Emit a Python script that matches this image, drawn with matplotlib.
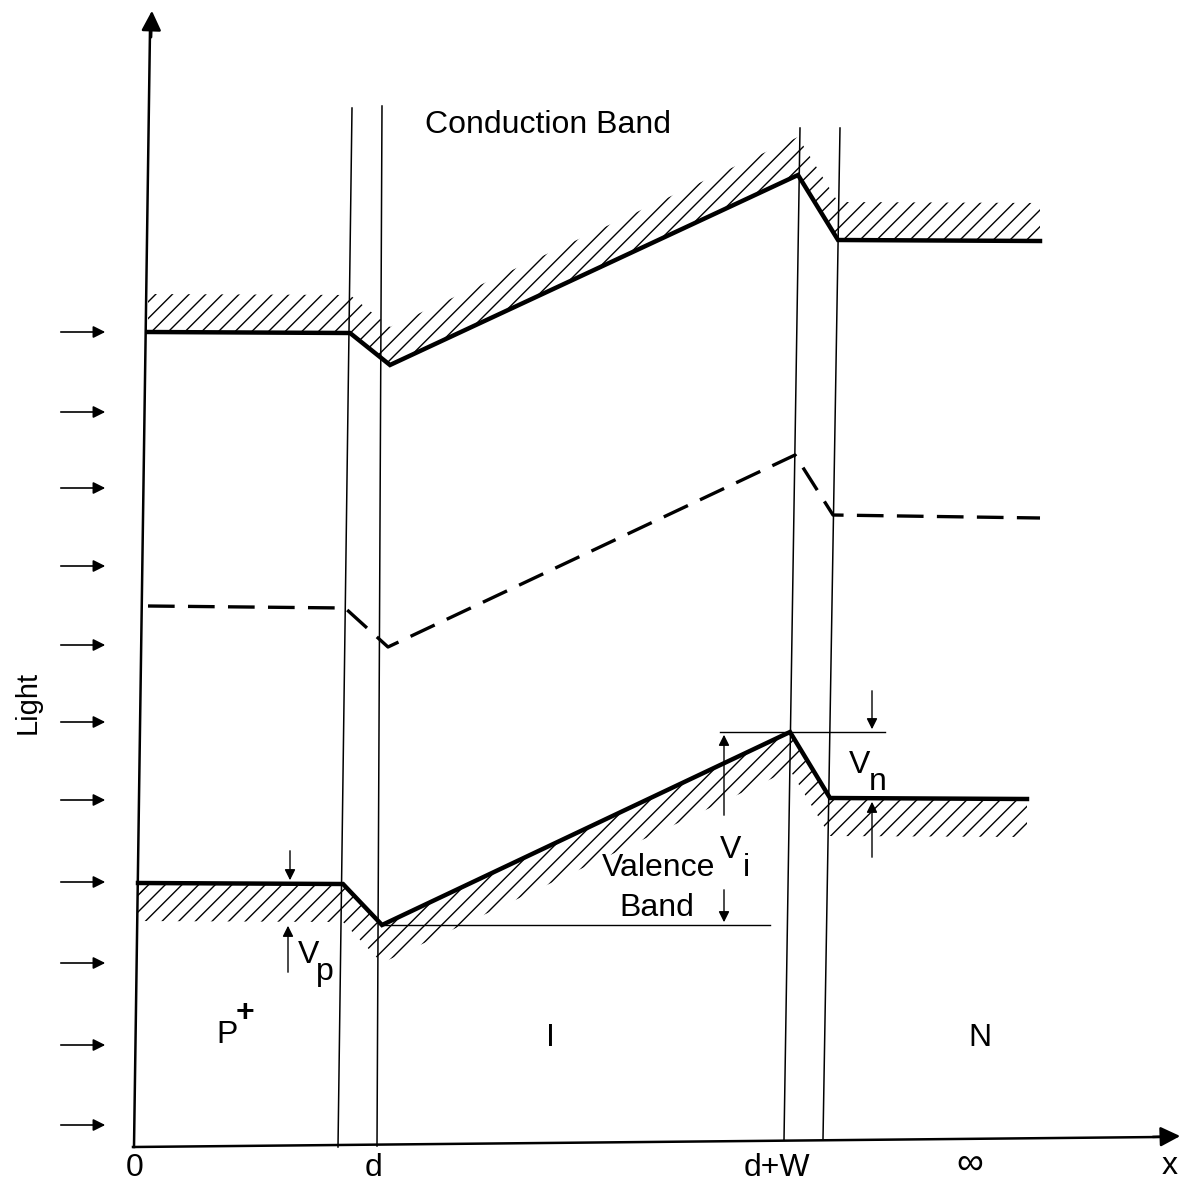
import matplotlib.pyplot as plt
import numpy as np

plt.rcParams['font.family'] = ['Liberation Sans', 'DejaVu Sans']
plt.rcParams['hatch.linewidth'] = 1.0

# === BAND DIAGRAM DATA (pixel-like units, y grows downward) ===
cb_x = [148, 350, 390, 798, 838, 1040]   # conduction band
cb_y = [332, 333, 365, 175, 240, 241]
ef_x = [148, 345, 388, 795, 833, 1040]   # dashed level
ef_y = [606, 608, 647, 455, 515, 518]
vb_x = [138, 343, 382, 790, 830, 1027]   # valence band
vb_y = [883, 884, 925, 732, 798, 799]

# region boundaries (top x, top y, bottom x, bottom y)
bound_top_x = [352, 382, 800, 840]
bound_top_y = [108, 106, 128, 128]
bound_bot_x = [338, 377, 784, 823]
bound_bot_y = [1147, 1146, 1140, 1139]

light_y = [332, 412, 488, 566, 645, 722, 800, 882, 963, 1045, 1125]

tick_x = [135, 374, 777]
tick_labels = ['0', 'd', 'd+W']

region_x = [550, 980]
region_labels = ['I', 'N']

hatch_depth = 38

fig = plt.figure(figsize=(11.93, 11.83), dpi=100)
ax = fig.add_axes([0, 0, 1, 1])
ax.set_xlim(0, 1193)
ax.set_ylim(1183, 0)
ax.axis('off')

# axes with arrows
ax.plot([150, 134], [30, 1147], color='k', lw=1.8)
ax.annotate('', xy=(152, 8), xytext=(151, 40),
            arrowprops=dict(arrowstyle='-|>', lw=1.8, color='k', mutation_scale=30))
ax.plot([133, 1160], [1147, 1137], color='k', lw=1.8)
ax.annotate('', xy=(1183, 1136), xytext=(1150, 1137),
            arrowprops=dict(arrowstyle='-|>', lw=1.8, color='k', mutation_scale=30))

# region boundaries
for tx, ty, bx, by in zip(bound_top_x, bound_top_y, bound_bot_x, bound_bot_y):
    ax.plot([tx, bx], [ty, by], color='k', lw=1.1)

# hatched bands
cbx = np.array(cb_x, dtype=float)
cby = np.array(cb_y, dtype=float)
vbx = np.array(vb_x, dtype=float)
vby = np.array(vb_y, dtype=float)
ax.fill_between(cbx, cby - hatch_depth, cby, facecolor='none', edgecolor='k',
                hatch='//', linewidth=0)
ax.fill_between(vbx, vby, vby + hatch_depth, facecolor='none', edgecolor='k',
                hatch='//', linewidth=0)

ax.plot(cb_x, cb_y, color='k', lw=3.2, solid_joinstyle='miter')
ax.plot(vb_x, vb_y, color='k', lw=3.2, solid_joinstyle='miter')
ax.plot(ef_x, ef_y, color='k', lw=2.4, linestyle=(0, (8, 4)))

# light arrows
for y in light_y:
    ax.annotate('', xy=(108, y), xytext=(58, y),
                arrowprops=dict(arrowstyle='-|>', lw=1.2, color='k', mutation_scale=18))

# reference lines
ax.plot([382, 770], [925, 925], color='k', lw=1.0)
ax.plot([720, 885], [732, 732], color='k', lw=1.0)

def dim_arrow(x, y_from, y_to):
    ax.annotate('', xy=(x, y_to), xytext=(x, y_from),
                arrowprops=dict(arrowstyle='-|>', lw=1.0, color='k', mutation_scale=16))

dim_arrow(290, 848, 883)
dim_arrow(288, 975, 923)
dim_arrow(724, 818, 732)
dim_arrow(724, 887, 925)
dim_arrow(872, 688, 732)
dim_arrow(872, 860, 799)

# text
fs = 23
ax.text(548, 125, 'Conduction Band', fontsize=fs, ha='center', va='center')
ax.text(659, 868, 'Valence', fontsize=fs, ha='center', va='center')
ax.text(657, 908, 'Band', fontsize=fs, ha='center', va='center')
ax.text(28, 702, 'Light', fontsize=21, ha='center', va='center', rotation=90)
ax.text(731, 850, 'V', fontsize=fs, ha='center', va='center')
ax.text(746, 868, 'i', fontsize=fs, ha='center', va='center')
ax.text(860, 765, 'V', fontsize=fs, ha='center', va='center')
ax.text(878, 782, 'n', fontsize=fs, ha='center', va='center')
ax.text(309, 955, 'V', fontsize=fs, ha='center', va='center')
ax.text(325, 972, 'p', fontsize=fs, ha='center', va='center')
ax.text(227, 1035, 'P', fontsize=fs, ha='center', va='center')
ax.text(245, 1013, '+', fontsize=fs, ha='center', va='center', fontweight='bold')
for x, lab in zip(region_x, region_labels):
    ax.text(x, 1038, lab, fontsize=fs, ha='center', va='center')
for x, lab in zip(tick_x, tick_labels):
    ax.text(x, 1168, lab, fontsize=fs, ha='center', va='center')
ax.text(970, 1164, '\u221e', fontsize=27, ha='center', va='center')
ax.text(1170, 1166, 'x', fontsize=fs, ha='center', va='center')

fig.savefig('out.png', dpi=100)
